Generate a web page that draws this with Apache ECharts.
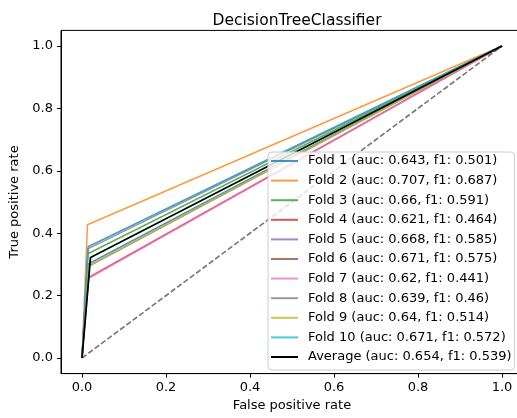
<!DOCTYPE html>
<html><head><meta charset="utf-8">
<script src="https://cdn.jsdelivr.net/npm/echarts@6/dist/echarts.min.js"></script>
<style>html,body{margin:0;padding:0;overflow:hidden;background:#fff;width:517px;height:418px}#c{width:530px;height:418px}</style>
</head><body><div id="c"></div>
<script>
const foldNames = ['Fold 1 (auc: 0.643, f1: 0.501)','Fold 2 (auc: 0.707, f1: 0.687)','Fold 3 (auc: 0.66, f1: 0.591)','Fold 4 (auc: 0.621, f1: 0.464)','Fold 5 (auc: 0.668, f1: 0.585)','Fold 6 (auc: 0.671, f1: 0.575)','Fold 7 (auc: 0.62, f1: 0.441)','Fold 8 (auc: 0.639, f1: 0.46)','Fold 9 (auc: 0.64, f1: 0.514)','Fold 10 (auc: 0.671, f1: 0.572)'];
const foldFpr = [0.016, 0.013, 0.014, 0.016, 0.014, 0.015, 0.014, 0.016, 0.015, 0.015];
const foldTpr = [0.302, 0.427, 0.334, 0.258, 0.350, 0.357, 0.254, 0.294, 0.295, 0.357];
const avgName = 'Average (auc: 0.654, f1: 0.539)';
const avgFpr = [0, 0.0202, 1];
const avgTpr = [0, 0.322, 1];
const diagX = [0, 1];
const diagY = [0, 1];
const xTicks = [0, 0.2, 0.4, 0.6, 0.8, 1.0];
const yTicks = [0, 0.2, 0.4, 0.6, 0.8, 1.0];
const colors = ['31,119,180','255,127,14','44,160,44','214,39,40','148,103,189','140,86,75','227,119,194','127,127,127','188,189,34','23,190,207'];

const FONT = 'DejaVu Sans';
const series = [];
foldNames.forEach((n, i) => {
  series.push({
    name: n, type: 'line', symbol: 'none', showSymbol: false,
    color: 'rgba(' + colors[i] + ',0.8)',
    lineStyle: { width: 1.5 },
    data: [[0, 0], [foldFpr[i], foldTpr[i]], [1, 1]],
    animation: false
  });
});
series.push({
  name: 'diag', type: 'line', symbol: 'none', color: '#7a7a7a',
  lineStyle: { width: 1.7, type: [5.5, 2.4] },
  data: diagX.map((x, i) => [x, diagY[i]]), animation: false
});
series.push({
  name: avgName, type: 'line', symbol: 'none', color: '#000',
  lineStyle: { width: 1.8 },
  data: avgFpr.map((x, i) => [x, avgTpr[i]]), animation: false
});

const chart = echarts.init(document.getElementById('c'), null, { renderer: 'canvas' });
chart.setOption({
  animation: false,
  title: { text: 'DecisionTreeClassifier', left: 292, top: 8, textAlign: 'center',
    textStyle: { fontFamily: FONT, fontSize: 15.5, fontWeight: 'normal', color: '#000' } },
  grid: { left: 61, top: 30.4, width: 462, height: 343.2, show: true, borderColor: '#000', borderWidth: 1, backgroundColor: 'transparent' },
  xAxis: {
    type: 'value', min: -0.05, max: 1.05,
    name: 'False positive rate', nameLocation: 'middle', nameGap: 26,
    nameTextStyle: { fontFamily: FONT, fontSize: 13, color: '#000' },
    axisLine: { show: true, onZero: false, lineStyle: { color: '#000', width: 1 } },
    axisTick: { show: true, length: 4, customValues: xTicks, lineStyle: { color: '#000' } },
    axisLabel: { customValues: xTicks, margin: 8, fontFamily: FONT, fontSize: 13, color: '#000', formatter: v => v.toFixed(1) },
    splitLine: { show: false }
  },
  yAxis: {
    type: 'value', min: -0.05, max: 1.05,
    name: 'True positive rate', nameLocation: 'middle', nameGap: 34, nameRotate: 90,
    nameTextStyle: { fontFamily: FONT, fontSize: 13, color: '#000' },
    axisLine: { show: true, onZero: false, lineStyle: { color: '#000', width: 1 } },
    axisTick: { show: true, length: 4, customValues: yTicks, lineStyle: { color: '#000' } },
    axisLabel: { customValues: yTicks, margin: 8, fontFamily: FONT, fontSize: 13, color: '#000', formatter: v => v.toFixed(1) },
    splitLine: { show: false }
  },
  legend: {
    data: foldNames.concat([avgName]),
    orient: 'vertical', left: 268, top: 152,
    padding: [2, 3, 6, 3],
    itemWidth: 27, itemHeight: 2, icon: 'rect', itemGap: 5.6,
    backgroundColor: 'rgba(255,255,255,0.8)', borderColor: '#cccccc', borderWidth: 1, borderRadius: 4,
    textStyle: { fontFamily: FONT, fontSize: 13, color: '#000', lineHeight: 14, padding: [0, 0, 0, 5] }
  },
  series: series
});
</script></body></html>
